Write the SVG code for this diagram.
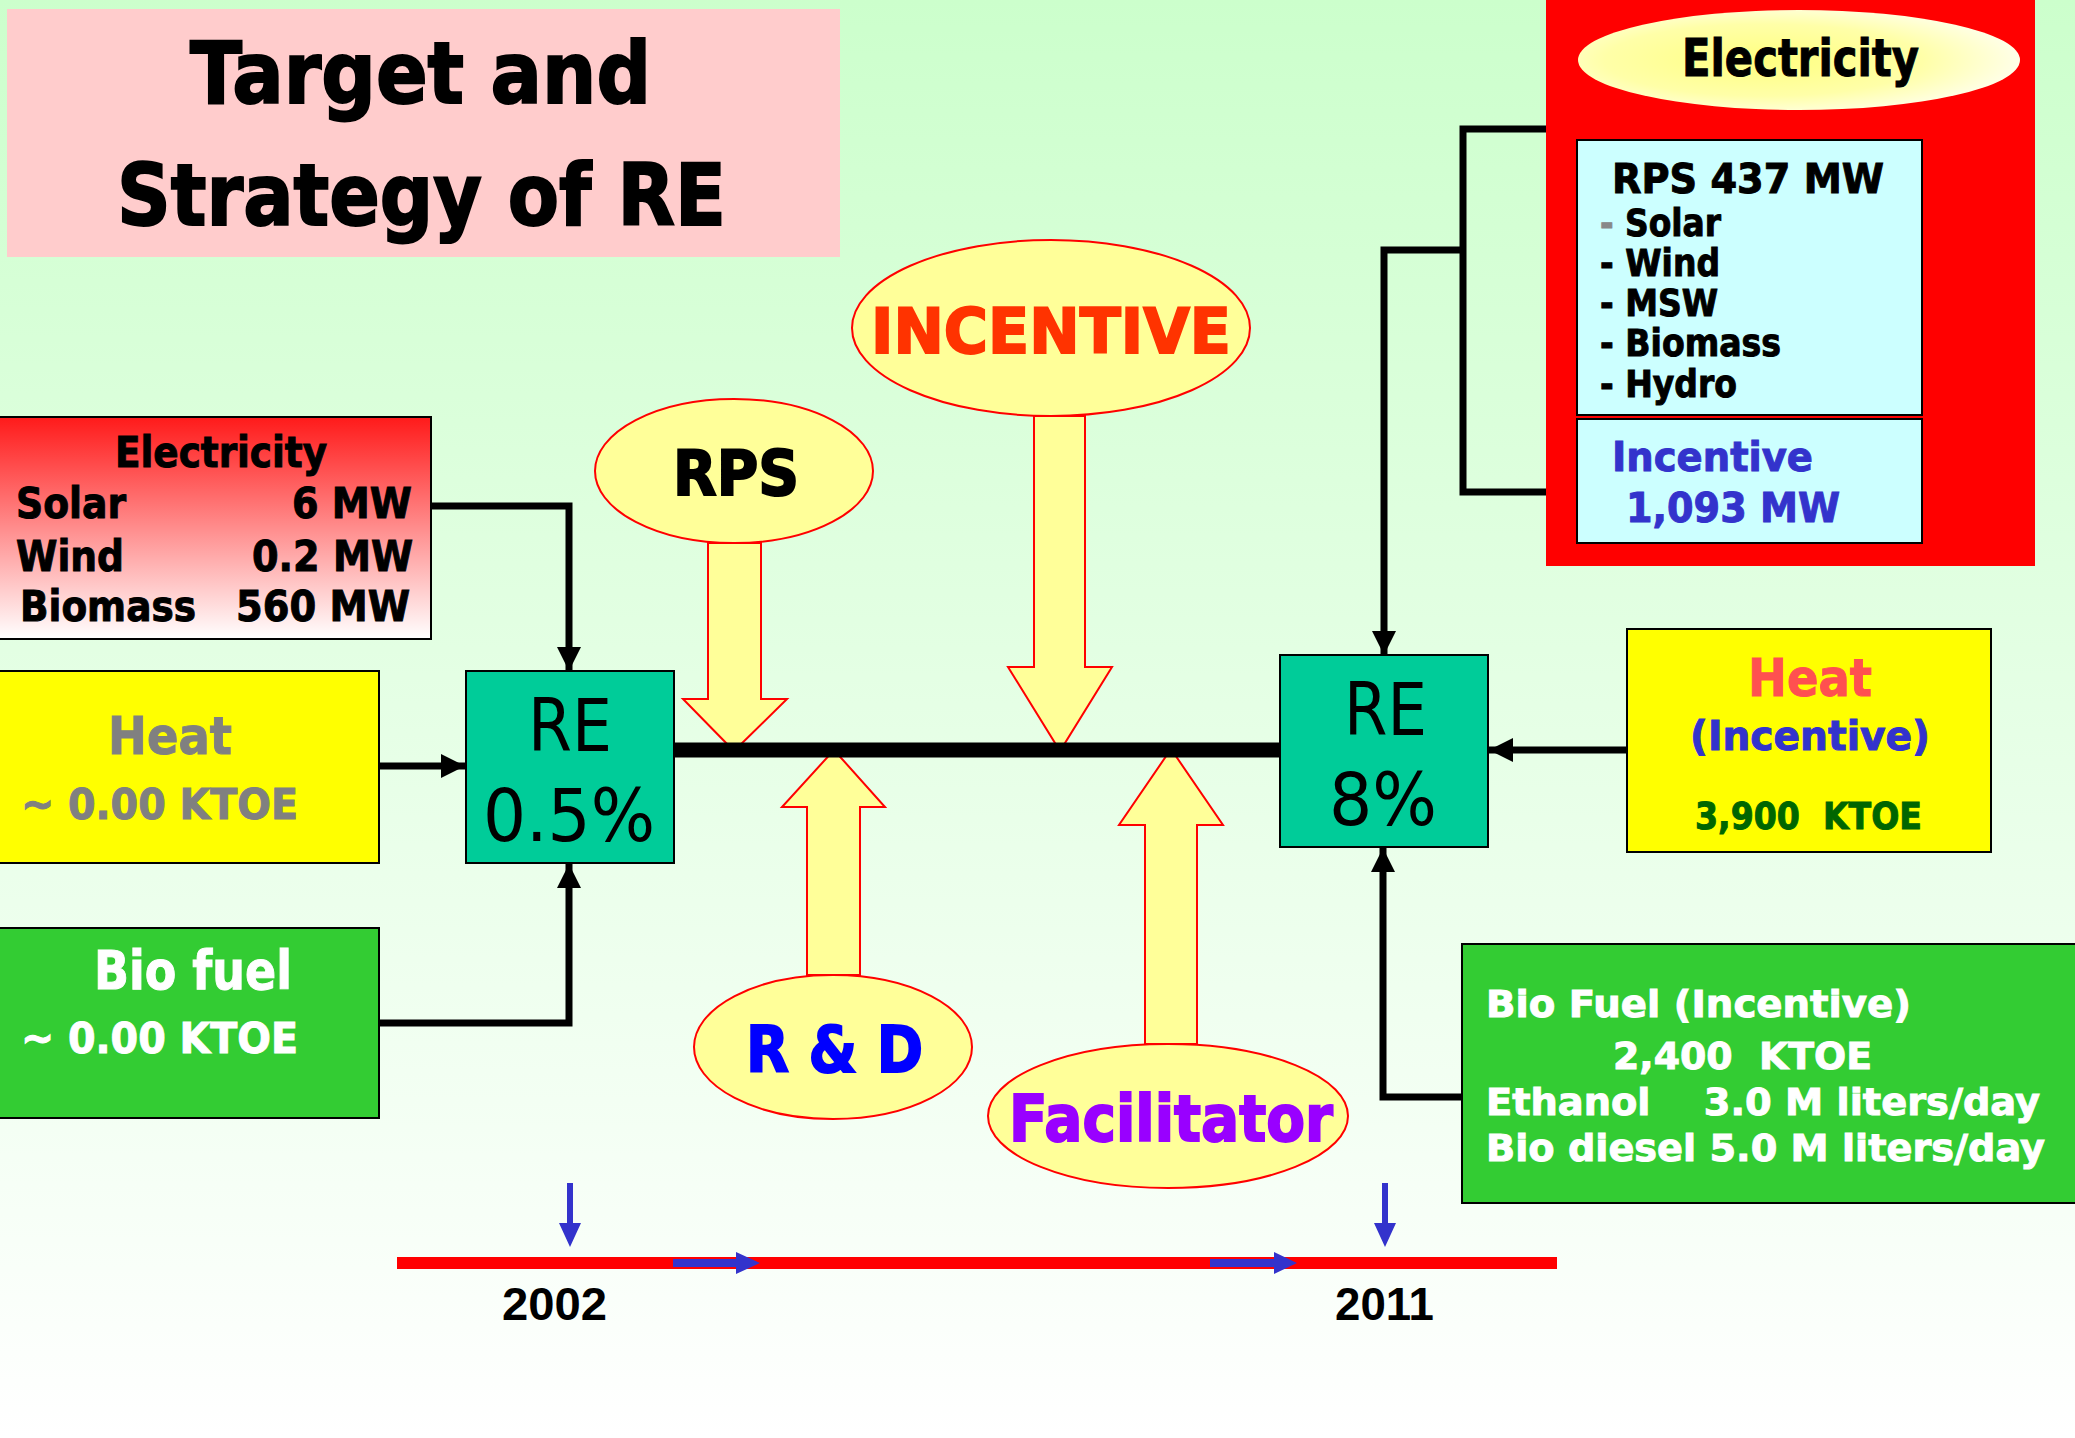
<svg xmlns="http://www.w3.org/2000/svg" width="2075" height="1438" viewBox="0 0 2075 1438">
<defs>
<linearGradient id="bg" x1="0" y1="0" x2="0" y2="1">
<stop offset="0" stop-color="#ccffcc"/>
<stop offset="1" stop-color="#ffffff"/>
</linearGradient>
<linearGradient id="elecL" x1="0" y1="0" x2="0" y2="1">
<stop offset="0" stop-color="#ff1a1a"/>
<stop offset="1" stop-color="#ffffff"/>
</linearGradient>
<radialGradient id="elecR" cx="0.42" cy="0.5" r="0.6">
<stop offset="0" stop-color="#ffff80"/>
<stop offset="0.6" stop-color="#ffffa8"/>
<stop offset="1" stop-color="#ffffee"/>
</radialGradient>
<marker id="ah" markerUnits="userSpaceOnUse" viewBox="0 0 24 24" markerWidth="24" markerHeight="24" refX="24" refY="12" orient="auto">
<path d="M0,0 L24,12 L0,24 z" fill="#000"/>
</marker>
</defs>
<style>
.b{font-family:"DejaVu Sans",Verdana,sans-serif;font-weight:bold;fill:currentColor;stroke:currentColor;stroke-width:1}
.b.big{stroke-width:2}
.n{font-family:"DejaVu Sans",Verdana,sans-serif;font-weight:normal}
.yr{font-family:"Liberation Sans",Arial,sans-serif;font-weight:bold}
.box{stroke:#000;stroke-width:2}
.ell{fill:#ffff99;stroke:#ff0000;stroke-width:2}
.blk{fill:#ffff99;stroke:#ff0000;stroke-width:2;stroke-linejoin:miter}
.con{fill:none;stroke:#000;stroke-width:7}
.blue{fill:#3333cc}
</style>
<rect x="0" y="0" width="2075" height="1438" fill="url(#bg)"/>

<g id="title">
<rect x="7" y="9" width="833" height="248" fill="#ffcccc"/>
<text class="b big" x="190" y="103" font-size="85" textLength="461" lengthAdjust="spacingAndGlyphs">Target and</text>
<text class="b big" x="117" y="225" font-size="85" textLength="609" lengthAdjust="spacingAndGlyphs">Strategy of RE</text>
</g>

<g id="arrows-strategy">
<polygon class="blk" points="708,543 761,543 761,699 787,699 734,751 683,699 708,699"/>
<polygon class="blk" points="1034,416 1085,416 1085,667 1112,667 1060,751 1008,667 1034,667"/>
<polygon class="blk" points="807,975 860,975 860,807 885,807 834,750 782,807 807,807"/>
<polygon class="blk" points="1145,1044 1197,1044 1197,825 1223,825 1171,749 1119,825 1145,825"/>
</g>

<g id="rps">
<ellipse class="ell" cx="734" cy="471" rx="139" ry="72"/>
<text class="b big" x="673" y="495" font-size="62" textLength="126" lengthAdjust="spacingAndGlyphs">RPS</text>
</g>
<g id="incentive">
<ellipse class="ell" cx="1051" cy="328" rx="199" ry="88"/>
<text class="b big" x="871" y="353" font-size="63" style="color:#ff3300" textLength="360" lengthAdjust="spacingAndGlyphs">INCENTIVE</text>
</g>
<g id="rnd">
<ellipse class="ell" cx="833" cy="1047" rx="139" ry="72"/>
<text class="b big" x="746" y="1072" font-size="64" style="color:#0000ff" textLength="177" lengthAdjust="spacingAndGlyphs">R &amp; D</text>
</g>
<g id="facilitator">
<ellipse class="ell" cx="1168" cy="1116" rx="180" ry="72"/>
<text class="b big" x="1009" y="1141" font-size="64" style="color:#9900ff" textLength="324" lengthAdjust="spacingAndGlyphs">Facilitator</text>
</g>

<g id="connectors">
<line x1="674" y1="750" x2="1280" y2="750" stroke="#000" stroke-width="15"/>
<path class="con" d="M431,506 H569 V671" marker-end="url(#ah)"/>
<path class="con" d="M379,766 H465" marker-end="url(#ah)"/>
<path class="con" d="M379,1023 H569 V864" marker-end="url(#ah)"/>
<path class="con" d="M1550,129 H1463 V492 H1550"/>
<path class="con" d="M1463,250 H1384 V655" marker-end="url(#ah)"/>
<path class="con" d="M1627,750 H1489" marker-end="url(#ah)"/>
<path class="con" d="M1462,1097 H1383 V848" marker-end="url(#ah)"/>
</g>

<g id="elec-left">
<rect class="box" x="-2" y="417" width="433" height="222" fill="url(#elecL)"/>
<text class="b" x="115" y="467" font-size="42" textLength="212" lengthAdjust="spacingAndGlyphs">Electricity</text>
<text class="b" x="16" y="518" font-size="42" textLength="110" lengthAdjust="spacingAndGlyphs">Solar</text>
<text class="b" x="292" y="518" font-size="42" textLength="120" lengthAdjust="spacingAndGlyphs">6 MW</text>
<text class="b" x="16" y="571" font-size="42" textLength="108" lengthAdjust="spacingAndGlyphs">Wind</text>
<text class="b" x="252" y="571" font-size="42" textLength="161" lengthAdjust="spacingAndGlyphs">0.2 MW</text>
<text class="b" x="20" y="621" font-size="42" textLength="176" lengthAdjust="spacingAndGlyphs">Biomass</text>
<text class="b" x="236" y="621" font-size="42" textLength="174" lengthAdjust="spacingAndGlyphs">560 MW</text>
</g>

<g id="heat-left">
<rect class="box" x="-2" y="671" width="381" height="192" fill="#ffff00"/>
<text class="b" x="108" y="754" font-size="51" style="color:#808080" textLength="124" lengthAdjust="spacingAndGlyphs">Heat</text>
<text class="b" x="21" y="819" font-size="42" style="color:#808080" textLength="277" lengthAdjust="spacingAndGlyphs">~ 0.00 KTOE</text>
</g>

<g id="biofuel-left">
<rect class="box" x="-2" y="928" width="381" height="190" fill="#33cc33"/>
<text class="b" x="94" y="989" font-size="53" style="color:#ffffff" textLength="198" lengthAdjust="spacingAndGlyphs">Bio fuel</text>
<text class="b" x="21" y="1053" font-size="42" style="color:#ffffff" textLength="277" lengthAdjust="spacingAndGlyphs">~ 0.00 KTOE</text>
</g>

<g id="re-2002">
<rect class="box" x="466" y="671" width="208" height="192" fill="#00cc99"/>
<text class="n" x="528" y="751" font-size="73" textLength="84" lengthAdjust="spacingAndGlyphs">RE</text>
<text class="n" x="483" y="841" font-size="73" textLength="172" lengthAdjust="spacingAndGlyphs">0.5%</text>
</g>

<g id="re-2011">
<rect class="box" x="1280" y="655" width="208" height="192" fill="#00cc99"/>
<text class="n" x="1344" y="735" font-size="73" textLength="83" lengthAdjust="spacingAndGlyphs">RE</text>
<text class="n" x="1329" y="825" font-size="73" textLength="108" lengthAdjust="spacingAndGlyphs">8%</text>
</g>

<g id="elec-right">
<rect x="1546" y="-2" width="489" height="568" fill="#ff0000"/>
<ellipse cx="1799" cy="60" rx="221" ry="50" fill="url(#elecR)"/>
<text class="b" x="1682" y="76" font-size="51" textLength="237" lengthAdjust="spacingAndGlyphs">Electricity</text>
<rect class="box" x="1577" y="140" width="345" height="275" fill="#ccffff"/>
<text class="b" x="1612" y="193" font-size="41" textLength="272" lengthAdjust="spacingAndGlyphs">RPS 437 MW</text>
<text class="b" x="1600" y="236" font-size="37" textLength="121" lengthAdjust="spacingAndGlyphs"><tspan style="color:#888888">-</tspan> Solar</text>
<text class="b" x="1600" y="276" font-size="37" textLength="120" lengthAdjust="spacingAndGlyphs">- Wind</text>
<text class="b" x="1600" y="316" font-size="37" textLength="118" lengthAdjust="spacingAndGlyphs">- MSW</text>
<text class="b" x="1600" y="356" font-size="37" textLength="181" lengthAdjust="spacingAndGlyphs">- Biomass</text>
<text class="b" x="1600" y="397" font-size="37" textLength="137" lengthAdjust="spacingAndGlyphs">- Hydro</text>
<rect class="box" x="1577" y="419" width="345" height="124" fill="#ccffff"/>
<text class="b" x="1612" y="471" font-size="41" style="color:#3333cc" textLength="201" lengthAdjust="spacingAndGlyphs">Incentive</text>
<text class="b" x="1626" y="522" font-size="41" style="color:#3333cc" textLength="214" lengthAdjust="spacingAndGlyphs">1,093 MW</text>
</g>

<g id="heat-right">
<rect class="box" x="1627" y="629" width="364" height="223" fill="#ffff00"/>
<text class="b" x="1748" y="696" font-size="51" style="color:#ff5050" textLength="124" lengthAdjust="spacingAndGlyphs">Heat</text>
<text class="b" x="1690" y="750" font-size="40" style="color:#3333cc" textLength="240" lengthAdjust="spacingAndGlyphs">(Incentive)</text>
<text class="b" x="1695" y="829" font-size="37" style="color:#006600" textLength="227" lengthAdjust="spacingAndGlyphs" xml:space="preserve">3,900  KTOE</text>
</g>

<g id="biofuel-right">
<rect class="box" x="1462" y="944" width="620" height="259" fill="#33cc33"/>
<text class="b" x="1486" y="1017" font-size="38" style="color:#ffffff" textLength="425" lengthAdjust="spacingAndGlyphs">Bio Fuel (Incentive)</text>
<text class="b" x="1613" y="1069" font-size="38" style="color:#ffffff" textLength="259" lengthAdjust="spacingAndGlyphs" xml:space="preserve">2,400  KTOE</text>
<text class="b" x="1486" y="1115" font-size="38" style="color:#ffffff" textLength="554" lengthAdjust="spacingAndGlyphs" xml:space="preserve">Ethanol    3.0 M liters/day</text>
<text class="b" x="1486" y="1161" font-size="38" style="color:#ffffff" textLength="559" lengthAdjust="spacingAndGlyphs">Bio diesel 5.0 M liters/day</text>
</g>

<g id="timeline">
<rect x="397" y="1257" width="1160" height="12" fill="#ff0000"/>
<polygon class="blue" points="673,1259 736,1259 736,1252 760,1263 736,1274 736,1267 673,1267"/>
<polygon class="blue" points="1210,1259 1274,1259 1274,1252 1297,1263 1274,1274 1274,1267 1210,1267"/>
<polygon class="blue" points="567,1183 573,1183 573,1223 581,1223 570,1247 559,1223 567,1223"/>
<polygon class="blue" points="1382,1183 1388,1183 1388,1223 1396,1223 1385,1247 1374,1223 1382,1223"/>
<text class="yr" x="502" y="1320" font-size="46" textLength="105" lengthAdjust="spacingAndGlyphs">2002</text>
<text class="yr" x="1335" y="1320" font-size="46" textLength="99" lengthAdjust="spacingAndGlyphs">2011</text>
</g>
</svg>
